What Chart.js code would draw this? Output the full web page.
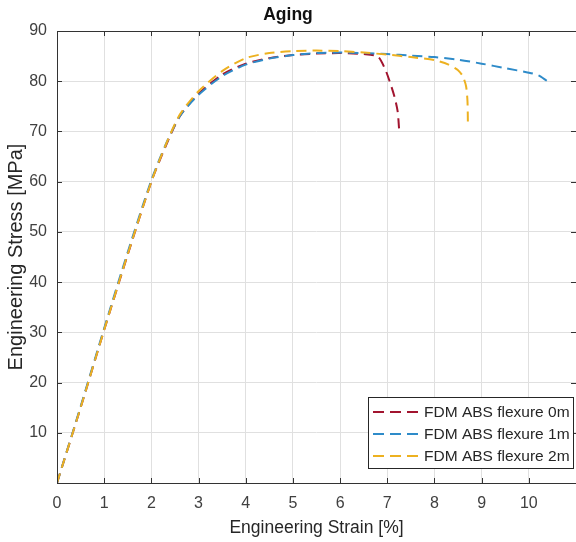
<!DOCTYPE html>
<html>
<head>
<meta charset="utf-8">
<script src="https://cdn.jsdelivr.net/npm/chart.js@4/dist/chart.umd.min.js"></script>
<style>
  body { margin: 0; background: #fff; }
  #wrap { width: 576px; height: 542px; }
</style>
</head>
<body>
<div id="wrap"><canvas id="agingChart"></canvas></div>
<script>
// values
const seriesLabels = ['FDM ABS flexure 0m', 'FDM ABS flexure 1m', 'FDM ABS flexure 2m'];
const seriesColors = ['#A2142F', '#2E8BC9', '#EDB120'];

const strain0m = [0, 0.5, 1, 1.5, 2, 2.3, 2.6, 3, 3.5, 4, 4.5, 5, 5.5, 6, 6.5, 6.8, 6.95, 7.05, 7.15, 7.22, 7.25];
const stress0m = [0, 15, 30.5, 45.5, 60, 67, 73, 77.5, 81.3, 83.5, 84.6, 85.2, 85.5, 85.6, 85.4, 84.9, 82.5, 80, 77, 74, 70.5];

const strain1m = [0, 0.5, 1, 1.5, 2, 2.3, 2.6, 3, 3.5, 4, 4.5, 5, 5.5, 6, 6.5, 7, 7.5, 8, 8.5, 9, 9.5, 10, 10.2, 10.38];
const stress1m = [0, 15.2, 30.8, 46, 60.3, 67.3, 73, 77.3, 81, 83.3, 84.5, 85.2, 85.6, 85.7, 85.6, 85.4, 85.1, 84.8, 84.3, 83.5, 82.6, 81.7, 81.2, 80.1];

const strain2m = [0, 0.5, 1, 1.5, 2, 2.3, 2.6, 3, 3.5, 4, 4.5, 5, 5.5, 6, 6.5, 7, 7.5, 8, 8.3, 8.5, 8.6, 8.67, 8.7, 8.71];
const stress2m = [0, 15, 30.5, 45.6, 60, 67.2, 73.3, 78, 82, 84.6, 85.6, 86, 86.1, 86, 85.7, 85.3, 84.8, 84.2, 83.3, 82.2, 81, 79, 76, 70.8];

const xTickValues = [0, 1, 2, 3, 4, 5, 6, 7, 8, 9, 10];
const yTickValues = [10, 20, 30, 40, 50, 60, 70, 80, 90];

const textColor = '#404040';
const axisColor = '#333333';
const gridColor = '#e0e0e0';
const fontFamily = '"Liberation Sans", Arial, sans-serif';

function toPoints(xs, ys) {
  return xs.map((x, i) => ({ x: x, y: ys[i] }));
}

function makeDataset(idx, xs, ys) {
  return {
    label: seriesLabels[idx],
    data: toPoints(xs, ys),
    borderColor: seriesColors[idx],
    backgroundColor: seriesColors[idx],
    borderWidth: 2,
    borderDash: [10, 6],
    pointRadius: 0,
    showLine: true,
    tension: 0.25,
    order: 3 - idx
  };
}

// frame, inner tick marks and boxed legend like the MATLAB figure
const framePlugin = {
  id: 'frame',
  afterDraw(chart) {
    const ctx = chart.ctx;
    const a = chart.chartArea;
    const xs = chart.scales.x, ys = chart.scales.y;
    ctx.save();
    ctx.strokeStyle = axisColor;
    ctx.lineWidth = 1;
    ctx.setLineDash([]);
    ctx.strokeRect(a.left + 0.5, a.top + 0.5, a.right - a.left, a.bottom - a.top);
    ctx.beginPath();
    xTickValues.forEach(v => {
      const px = Math.round(xs.getPixelForValue(v)) + 0.5;
      ctx.moveTo(px, a.bottom); ctx.lineTo(px, a.bottom - 5);
      ctx.moveTo(px, a.top); ctx.lineTo(px, a.top + 5);
    });
    yTickValues.forEach(v => {
      const py = Math.round(ys.getPixelForValue(v)) + 0.5;
      ctx.moveTo(a.left, py); ctx.lineTo(a.left + 5, py);
      ctx.moveTo(a.right, py); ctx.lineTo(a.right - 5, py);
    });
    ctx.stroke();

    // legend
    const lx = 368, ly = 397, lw = 205, lh = 71;
    ctx.fillStyle = '#ffffff';
    ctx.fillRect(lx, ly, lw, lh);
    ctx.strokeStyle = '#262626';
    ctx.strokeRect(lx + 0.5, ly + 0.5, lw, lh);
    ctx.font = '15.5px ' + fontFamily;
    ctx.textBaseline = 'middle';
    seriesLabels.forEach((label, i) => {
      const y = ly + 15 + i * 22;
      ctx.strokeStyle = seriesColors[i];
      ctx.lineWidth = 2;
      ctx.setLineDash([11, 6]);
      ctx.beginPath();
      ctx.moveTo(lx + 5, y); ctx.lineTo(lx + 52, y);
      ctx.stroke();
      ctx.setLineDash([]);
      ctx.fillStyle = '#262626';
      ctx.fillText(label, lx + 56, y + 1);
    });
    ctx.restore();
  }
};

new Chart(document.getElementById('agingChart'), {
  type: 'scatter',
  data: {
    datasets: [
      makeDataset(0, strain0m, stress0m),
      makeDataset(1, strain1m, stress1m),
      makeDataset(2, strain2m, stress2m)
    ]
  },
  options: {
    responsive: true,
    maintainAspectRatio: false,
    animation: false,
    layout: { padding: 0 },
    plugins: {
      legend: { display: false },
      tooltip: { enabled: false },
      title: {
        display: true,
        text: 'Aging',
        color: '#111111',
        font: { family: fontFamily, size: 17.5, weight: 'bold' },
        padding: { top: 5, bottom: 5 }
      }
    },
    scales: {
      x: {
        type: 'linear',
        min: 0,
        max: 11,
        afterBuildTicks: s => { s.ticks = xTickValues.map(v => ({ value: v })); },
        afterFit: s => { s.height = 59; },
        border: { display: false },
        grid: { color: gridColor, drawTicks: false },
        ticks: { color: textColor, padding: 11, font: { family: fontFamily, size: 16 } },
        title: {
          display: true,
          text: 'Engineering Strain [%]',
          color: '#262626',
          font: { family: fontFamily, size: 17.5 },
          padding: { top: 4, bottom: 3 }
        }
      },
      y: {
        type: 'linear',
        min: 0,
        max: 90,
        afterBuildTicks: s => { s.ticks = yTickValues.map(v => ({ value: v })); },
        afterFit: s => { s.width = 57; },
        border: { display: false },
        grid: { color: gridColor, drawTicks: false },
        ticks: { color: textColor, padding: 10, font: { family: fontFamily, size: 16 } },
        title: {
          display: true,
          text: 'Engineering Stress [MPa]',
          color: '#262626',
          font: { family: fontFamily, size: 20 },
          padding: { top: 4, bottom: 4 }
        }
      }
    }
  },
  plugins: [framePlugin]
});
</script>
</body>
</html>
